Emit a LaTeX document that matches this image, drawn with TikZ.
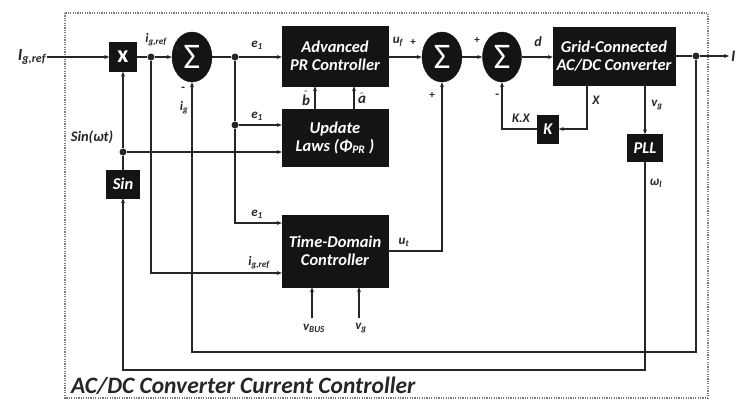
\documentclass[tikz,border=0pt]{standalone}
\usepackage{fontspec}
\setmainfont{Carlito}
\usepackage{tikz}
\usetikzlibrary{arrows.meta,positioning,calc,shapes.geometric}
\definecolor{ink}{HTML}{262626}
\definecolor{boxfill}{HTML}{141414}
\definecolor{framegray}{HTML}{7A7A7A}
\newcommand{\lab}[2]{\textit{#1}\textsubscript{\textit{#2}}}
\newcommand{\hatlab}[1]{$\hat{\mbox{\bfseries\itshape #1}}$}

\begin{document}
\begin{tikzpicture}[
  x=1pt, y=-1pt,
  font=\fontsize{13}{14}\selectfont\bfseries\itshape,
  blk/.style={draw=boxfill, fill=boxfill, text=white, align=center,
    inner sep=1pt, font=\fontsize{16.5}{17.5}\selectfont\bfseries\itshape},
  sumnode/.style={ellipse, draw=boxfill, fill=boxfill, text=white,
    minimum width=40pt, minimum height=50pt, inner sep=0pt,
    font=\fontsize{36}{36}\selectfont},
  dot/.style={circle, fill=ink, minimum size=7pt, inner sep=0pt},
  lbl/.style={text=ink, inner sep=1pt},
  flow/.style={-{Stealth[length=5pt,width=4pt]}, line width=1.2pt, ink},
  wire/.style={line width=1.2pt, ink},
  frame/.style={draw=framegray, line width=2.4pt, dash pattern=on 1.2pt off 1.2pt}
]
\useasboundingbox (0,0) rectangle (737,399);
% outer frame
\draw[frame] (65,13) rectangle (708,398);
\node[lbl, anchor=base west, font=\fontsize{23.5}{24}\selectfont\bfseries\itshape] (title) at (70,393)
  {AC/DC Converter Current Controller};
% forward path
\node[lbl, font=\fontsize{17}{18}\selectfont\bfseries\itshape] (iref) at (32,57) {\lab{I}{g,ref}};
\node[blk, minimum width=27pt, minimum height=29pt,
  font=\fontsize{24}{24}\selectfont\bfseries] (mult) at (123,57) {x};
\node[dot] (d1) at (151,57) {};
\node[sumnode] (sum1) at (192,57) {Σ};
\node[dot] (d2) at (235,57) {};
\node[blk, minimum width=106pt, minimum height=60pt] (pr) at (335,56)
  {Advanced\\PR Controller};
\node[sumnode] (sum2) at (442,57) {Σ};
\node[sumnode, minimum width=39pt] (sum3) at (502,57) {Σ};
\node[blk, minimum width=122pt, minimum height=58pt] (grid) at (614,56)
  {Grid-Connected\\AC/DC Converter};
\node[dot] (d3) at (696,56) {};
\coordinate (out) at (729,56);
\node[lbl, anchor=west, font=\fontsize{16}{17}\selectfont\bfseries\itshape] (iout) at (730,56) {I};
% lower blocks
\node[blk, minimum width=106pt, minimum height=57pt] (upd) at (335,138)
  {Update\\Laws (Φ\textsubscript{PR} )};
\node[dot] (d4) at (235,125) {};
\node[dot] (d5) at (123,152) {};
\node[blk, minimum width=33pt, minimum height=28pt] (sinb) at (123,184) {Sin};
\node[blk, minimum width=21pt, minimum height=28pt] (kbox) at (548,129) {K};
\node[blk, minimum width=35pt, minimum height=27pt] (pll) at (645,148) {PLL};
\node[blk, minimum width=106pt, minimum height=72pt] (tdc) at (335,251)
  {Time-Domain\\Controller};
\coordinate (vbus) at (312,318);
\coordinate (vgin) at (359,318);
% connectors
\draw[flow] (iref.east) -- (mult.west);
\draw[flow] (mult.east) -- (d1) -- (sum1.west);
\draw[flow] (sum1.east) -- (d2) -- (d2 -| pr.west);
\draw[flow] (pr.east |- sum2) -- (sum2.west);
\draw[flow] (sum2.east) -- (sum3.west);
\draw[flow] (sum3.east) -- (sum3 -| grid.west);
\draw[flow] (grid.east |- d3) -- (d3) -- (out);
\draw[wire] (d2) -- (d4);
\draw[flow] (d4) -- (d4 -| upd.west);
\draw[flow] (d4) |- ($(tdc.west)+(0,-28)$);
\draw[flow] (d1) |- ($(tdc.west)+(0,22)$);
\draw[flow] (sinb.north) -- (d5) -- (mult.south);
\draw[flow] (d5) -- (d5 -| upd.west);
\draw[flow] (upd.north -| 315,0) -- (pr.south -| 315,0);
\draw[flow] (upd.north -| 354,0) -- (pr.south -| 354,0);
\draw[flow] (tdc.east) -| (sum2.south);
\draw[flow, line width=2.2pt] (grid.south -| 587,0) |- (kbox.east);
\draw[flow] (kbox.west) -| (sum3.south);
\draw[flow] (grid.south -| pll) -- (pll.north);
\draw[flow] (pll.south) |- (123,370) -- (sinb.south);
\draw[flow] (d3) |- (192,352) -- (sum1.south);
\draw[flow] (vbus) -- (tdc.south -| vbus);
\draw[flow] (vgin) -- (tdc.south -| vgin);
% signal labels
\node[lbl] (lref) at (156,40) {\lab{i}{g,ref}};
\node[lbl, font=\fontsize{9}{9}\selectfont\bfseries] (lp1) at (177,49) {+};
\node[lbl] (lm1) at (183,89) {-};
\node[lbl] (lig) at (184,108) {\lab{i}{g}};
\node[lbl] (le1) at (257,45) {e\textsubscript{1}};
\node[lbl] (le2) at (257,116) {e\textsubscript{1}};
\node[lbl] (le3) at (257,214) {e\textsubscript{1}};
\node[lbl, font=\fontsize{14.5}{15}\selectfont\bfseries\itshape] (lsin) at (92,137) {Sin(ωt)};
\node[lbl] (lref2) at (259,263) {\lab{i}{g,ref}};
\node[lbl, font=\fontsize{15}{15}\selectfont] (lb) at (306,98) {\hatlab{b}};
\node[lbl, font=\fontsize{15}{15}\selectfont] (la) at (362,98) {\hatlab{a}};
\node[lbl] (luf) at (398,42) {\lab{u}{f}};
\node[lbl, font=\fontsize{11}{11}\selectfont\bfseries] (lp2) at (413,42) {+};
\node[lbl, font=\fontsize{11}{11}\selectfont\bfseries] (lp3) at (432,95) {+};
\node[lbl, font=\fontsize{11}{11}\selectfont\bfseries] (lp4) at (477,40) {+};
\node[lbl, font=\fontsize{14}{15}\selectfont\bfseries\itshape] (ld) at (538,42) {d};
\node[lbl] (lm2) at (497,96) {-};
\node[lbl] (lkx) at (521,118) {K.X};
\node[lbl] (lx) at (596,100) {X};
\node[lbl] (lvg) at (657,105) {\lab{v}{g}};
\node[lbl] (lwl) at (656,183) {ω\textsubscript{\textit{l}}};
\node[lbl] (lut) at (404,242) {\lab{u}{t}};
\node[lbl] (lvbus) at (314,328) {\lab{v}{BUS}};
\node[lbl] (lvg2) at (361,328) {\lab{v}{g}};
\end{tikzpicture}
\end{document}
